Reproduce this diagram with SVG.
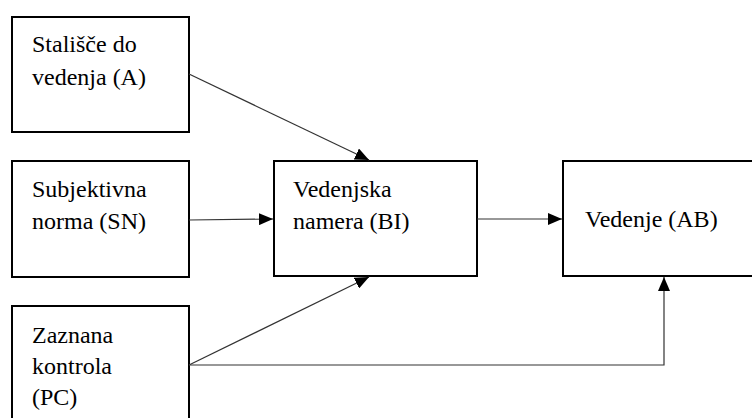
<svg xmlns="http://www.w3.org/2000/svg" width="752" height="418" viewBox="0 0 752 418">
  <style>
    .box { fill: #ffffff; stroke: #000000; stroke-width: 2; }
    .edge { fill: none; stroke: #333333; stroke-width: 1.2; }
  </style>
  <defs>
    <marker id="arrow" viewBox="0 0 14 12" refX="14" refY="6" markerWidth="14" markerHeight="12" markerUnits="userSpaceOnUse" orient="auto">
      <path d="M0,0 L14,6 L0,12 Z" fill="#000000"/>
    </marker>
  </defs>
  <rect width="752" height="418" fill="#ffffff"/>

  <g font-family="Liberation Serif, Times New Roman, serif" font-size="24" fill="#000000">
    <g id="node-A">
      <rect class="box" x="12" y="17" width="177" height="115"/>
      <text x="32" y="52">Stališče do</text>
      <text x="32" y="85">vedenja (A)</text>
    </g>

    <g id="node-SN">
      <rect class="box" x="12" y="161" width="177" height="116"/>
      <text x="32" y="197">Subjektivna</text>
      <text x="32" y="229">norma (SN)</text>
    </g>

    <g id="node-PC">
      <rect class="box" x="12" y="306" width="177" height="130"/>
      <text x="32" y="343">Zaznana</text>
      <text x="32" y="374">kontrola</text>
      <text x="32" y="405">(PC)</text>
    </g>

    <g id="node-BI">
      <rect class="box" x="274" y="161" width="203" height="115"/>
      <text x="293" y="197">Vedenjska</text>
      <text x="293" y="229">namera (BI)</text>
    </g>

    <g id="node-AB">
      <rect class="box" x="563" y="161" width="200" height="115"/>
      <text x="585" y="227">Vedenje (AB)</text>
    </g>
  </g>

  <g id="connectors">
    <line class="edge" x1="189" y1="74" x2="369" y2="160" marker-end="url(#arrow)"/>
    <line class="edge" x1="189" y1="220" x2="273" y2="219" marker-end="url(#arrow)"/>
    <line class="edge" x1="189" y1="365" x2="369" y2="277" marker-end="url(#arrow)"/>
    <line class="edge" x1="477" y1="219" x2="562" y2="219" marker-end="url(#arrow)"/>
    <polyline class="edge" points="189,365 664,365 664,277" marker-end="url(#arrow)"/>
  </g>
</svg>
